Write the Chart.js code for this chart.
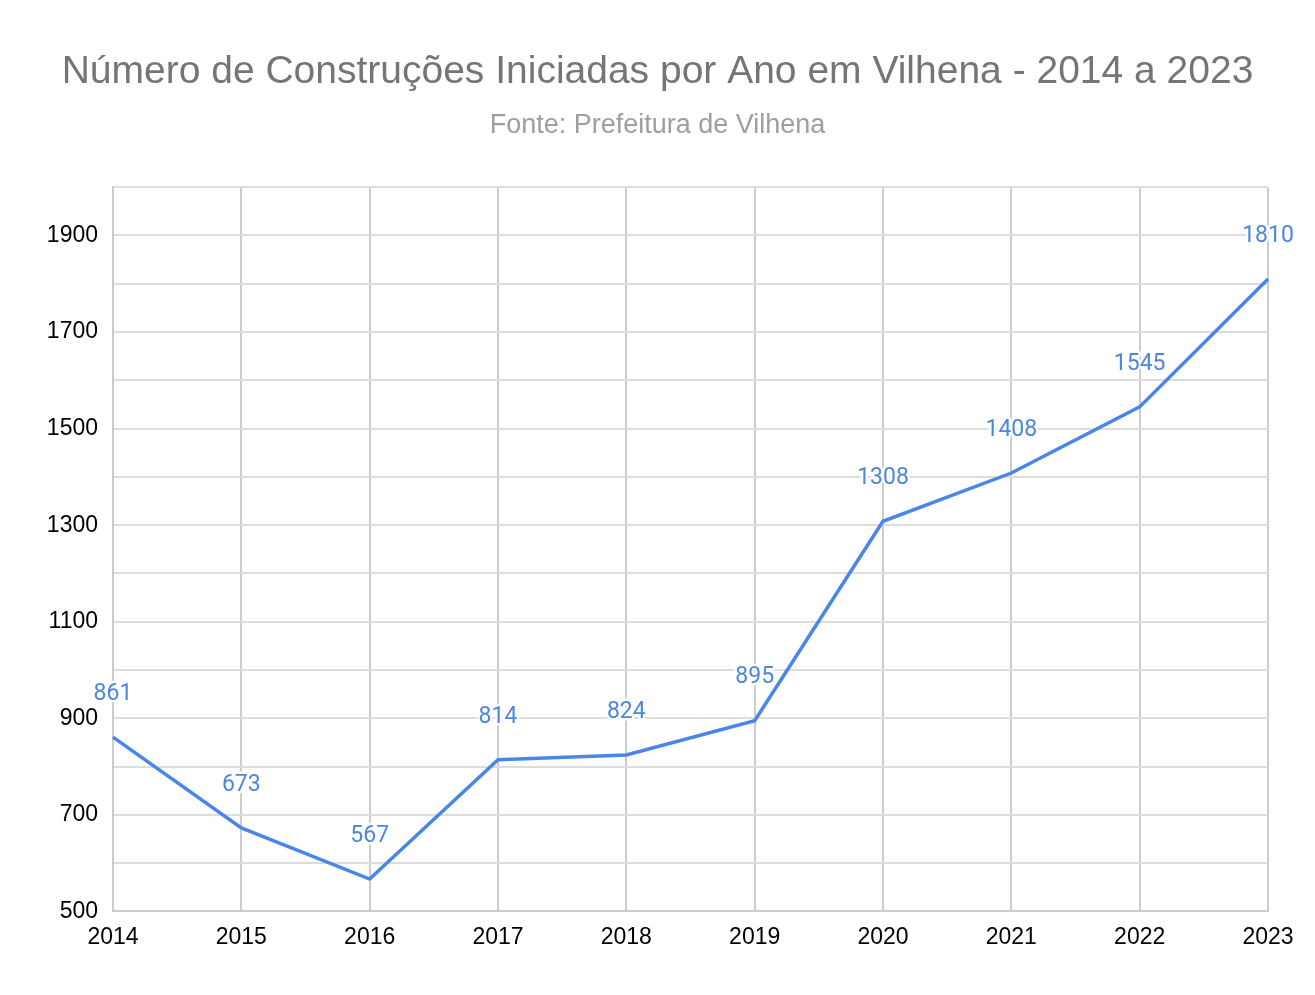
<!DOCTYPE html>
<html>
<head>
<meta charset="utf-8">
<script src="https://cdn.jsdelivr.net/npm/chart.js@4"></script>
<style>
  html, body { margin: 0; padding: 0; background: #fff; }
  #wrap { width: 1315px; height: 995px; }
</style>
</head>
<body>
<div id="wrap"><canvas id="obrasChart"></canvas></div>
<script>
// Dados do gráfico
const anos = ['2014', '2015', '2016', '2017', '2018', '2019', '2020', '2021', '2022', '2023']
const construcoes = [861, 673, 567, 814, 824, 895, 1308, 1408, 1545, 1810]
const yMin = 500
const yMax = 2000
const yPasso = 100

const azul = '#4a86e8'
const arial = 'Arial, "Liberation Sans", sans-serif'

// Rótulos de valor acima dos pontos (sem plugin externo)
const rotulosValor = {
    id: 'rotulosValor',
    afterDatasetsDraw(chart) {
        const ctx = chart.ctx
        const meta = chart.getDatasetMeta(0)
        ctx.save()
        ctx.font = '23px Roboto, Arial, sans-serif'
        ctx.textAlign = 'center'
        ctx.textBaseline = 'middle'
        ctx.lineJoin = 'round'
        meta.data.forEach((pt, i) => {
            const txt = String(construcoes[i])
            ctx.strokeStyle = 'rgba(255,255,255,0.9)'
            ctx.lineWidth = 5
            ctx.strokeText(txt, pt.x, pt.y - 43)
            ctx.fillStyle = '#4f86dc'
            ctx.fillText(txt, pt.x, pt.y - 43)
        })
        ctx.restore()
    }
}

const ctx = document.getElementById('obrasChart').getContext('2d')
new Chart(ctx, {
    type: 'line',
    data: {
        labels: anos,
        datasets: [{
            label: 'Construções iniciadas',
            data: construcoes,
            borderColor: azul,
            borderWidth: 3.5,
            pointRadius: 0,
            tension: 0,
            fill: false
        }]
    },
    options: {
        responsive: true,
        maintainAspectRatio: false,
        animation: false,
        layout: { padding: { left: 0, right: 0, top: 0, bottom: 32 } },
        plugins: {
            legend: { display: false },
            tooltip: { enabled: false },
            title: {
                display: true,
                text: 'Número de Construções Iniciadas por Ano em Vilhena - 2014 a 2023',
                color: '#757575',
                font: { family: arial, size: 39, weight: 'normal' },
                padding: { top: 49, bottom: 14 }
            },
            subtitle: {
                display: true,
                text: 'Fonte: Prefeitura de Vilhena',
                color: '#9e9e9e',
                font: { family: arial, size: 27, weight: 'normal' },
                padding: { top: 0, bottom: 45 }
            }
        },
        scales: {
            x: {
                grid: { color: '#cccccc', lineWidth: 2, drawTicks: false },
                border: { color: '#cccccc', width: 2 },
                ticks: {
                    color: '#000',
                    font: { family: arial, size: 23 },
                    padding: 12,
                    maxRotation: 0,
                    autoSkip: false
                }
            },
            y: {
                min: yMin,
                max: yMax,
                grid: { color: '#dddddd', lineWidth: 2, drawTicks: false },
                border: { color: '#cccccc', width: 2 },
                ticks: {
                    stepSize: yPasso,
                    autoSkip: false,
                    color: '#000',
                    font: { family: arial, size: 23 },
                    padding: 15,
                    callback: v => ((v - yMin) % 200 === 0 && v < yMax) ? v : ''
                },
                afterFit(scale) { scale.width = 113 }
            },
            // eixo vazio à direita só para reservar a margem
            margemDireita: {
                position: 'right',
                min: yMin,
                max: yMax,
                grid: { display: false },
                border: { display: false },
                ticks: { display: false },
                afterFit(scale) { scale.width = 47 }
            }
        }
    },
    plugins: [rotulosValor]
})
</script>
</body>
</html>
